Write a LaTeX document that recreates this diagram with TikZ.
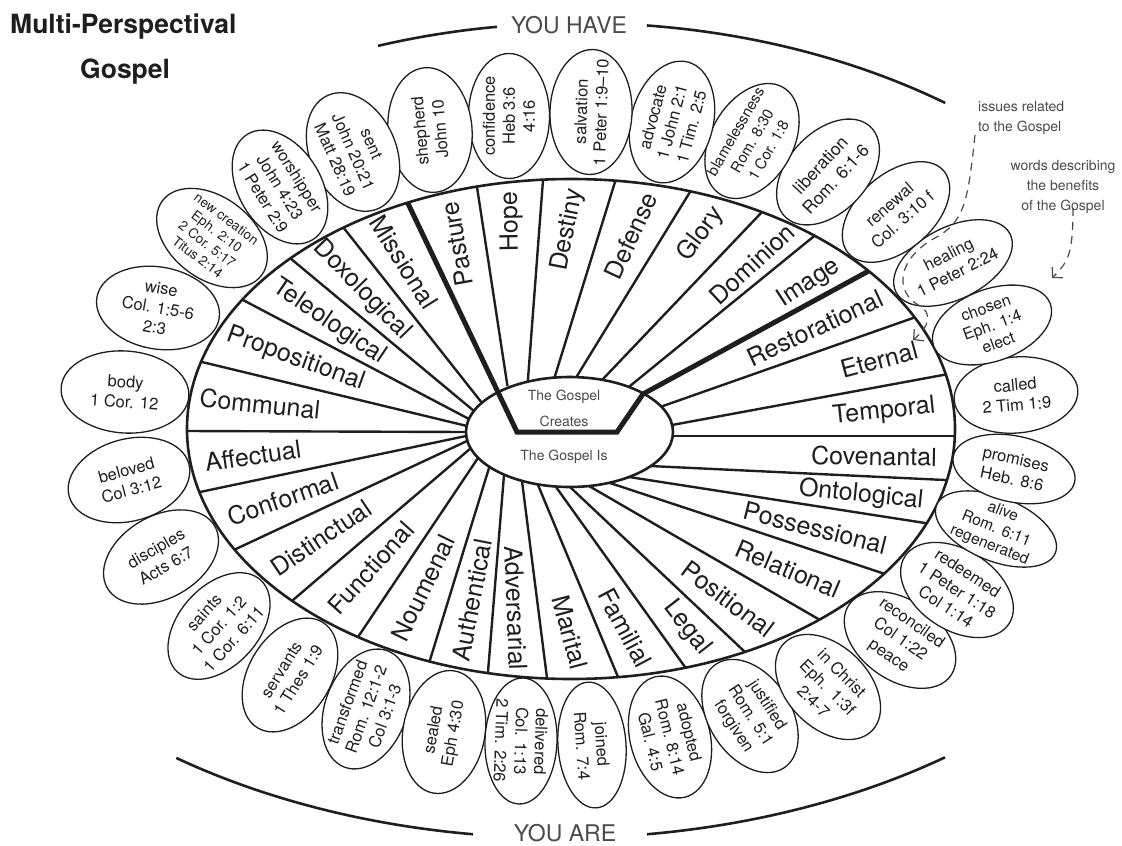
\documentclass[tikz,border=0pt]{standalone}
\usepackage{fontspec}
\setmainfont{TeX Gyre Heros}
\usepackage{tikz}
\usetikzlibrary{arrows.meta,shapes.geometric}
\definecolor{inkGray}{HTML}{1E1E1E}
\definecolor{noteGray}{HTML}{4A4A4A}

\begin{document}
\begin{tikzpicture}[
  x=1pt,y=-1pt,
  ring/.style={draw=inkGray,line width=2.6pt},
  spoke/.style={draw=inkGray,line width=2.4pt,shorten <=-3pt,shorten >=-8pt},
  creates/.style={draw=inkGray,line width=5pt},
  facet/.style={text=inkGray,inner sep=0pt,font=\fontsize{25}{30}\selectfont},
  verse/.style={draw=inkGray,line width=1.3pt,fill=white,ellipse,inner sep=0pt,minimum width=124,minimum height=82},
  versetext/.style={text=inkGray,align=center,inner sep=0pt,font=\fontsize{16.5}{20}\selectfont},
  note/.style={text=noteGray,align=center,inner sep=0pt,font=\fontsize{14}{20}\selectfont},
  hint/.style={draw=noteGray,line width=1.2pt,dash pattern=on 8pt off 6pt,-{Straight Barb[length=7pt,width=15pt]}},
  heading/.style={text=noteGray,inner sep=0pt,font=\fontsize{23}{27}\selectfont}
]
\useasboundingbox (0,0) rectangle (1122,846);

% spokes of the wheel
\begin{scope}
  \clip (571,429) ellipse [x radius=384, y radius=250];
  \foreach \ix/\iy/\ox/\oy in {466/432/187/431, 467/426/202/362, 469/419/243/300, 474/411/290/258,
      482/403/343/227, 507/383/477/187, 528/379/543/180, 555/376/615/182, 577/376/690/192,
      603/379/762/212, 630/386/813/237, 663/406/913/318, 672/425/943/375, 673/436/953/436,
      650/466/945/480, 629/477/925/523, 610/483/882/573, 589/486/820/620, 570/487/745/652,
      556/487/685/667, 538/485/618/677, 522/481/547/678, 504/475/488/672, 489/468/430/660,
      478/458/358/637, 471/448/293/600, 467/441/238/548, 466/436/200/492}
    \draw[spoke] (\ix,\iy) -- (\ox,\oy);
\end{scope}

\node[draw=inkGray,line width=2.6pt,fill=white,ellipse,inner sep=0pt,minimum width=207,minimum height=110] (core) at (569.5,432) {};

\begin{scope}
  \clip (571,429) ellipse [x radius=384, y radius=250];
  \draw[creates] (403,193) -- (517,432) -- (617,432) -- (643,394) -- (876,267);
\end{scope}
\draw[ring] (571,429) ellipse [x radius=384, y radius=250];

\node[note] (gospelA) at (564,397) {The Gospel};
\node[note] (gospelB) at (564,421) {Creates};
\node[note] (gospelC) at (564,457) {The Gospel Is};

% you have
\node[facet,rotate=-6] (communal) at (260,404) {Communal};
\node[facet,rotate=-20] (propositional) at (296,359) {Propositional};
\node[facet,rotate=-34] (teleological) at (329,322) {Teleological};
\node[facet,rotate=-46] (doxological) at (362,290) {Doxological};
\node[facet,rotate=-58] (missional) at (404,262) {Missional};
\node[facet,rotate=100] (pasture) at (457,244) {Pasture};
\node[facet,rotate=91] (hope) at (511,222) {Hope};
\node[facet,rotate=79] (destiny) at (568,230) {Destiny};
\node[facet,rotate=65] (defense) at (631,236) {Defense};
\node[facet,rotate=53] (glory) at (701,234) {Glory};
\node[facet,rotate=43] (dominion) at (752,264) {Dominion};
\node[facet,rotate=33] (image) at (809,283) {Image};
\node[facet,rotate=25] (restorational) at (815,328) {Restorational};
\node[facet,rotate=15] (eternal) at (879,360) {Eternal};
\node[facet,rotate=6] (temporal) at (884,412) {Temporal};
% you are
\node[facet,rotate=-1] (covenantal) at (874,456) {Covenantal};
\node[facet,rotate=-6] (ontological) at (861,495) {Ontological};
\node[facet,rotate=-14] (possessional) at (815,528) {Possessional};
\node[facet,rotate=-23] (relational) at (788,569) {Relational};
\node[facet,rotate=-37] (positional) at (728,599) {Positional};
\node[facet,rotate=-52] (legal) at (687,628) {Legal};
\node[facet,rotate=-62] (familial) at (625,628) {Familial};
\node[facet,rotate=-75] (marital) at (570,632) {Marital};
\node[facet,rotate=-88] (adversarial) at (516,608) {Adversarial};
\node[facet,rotate=79] (authentical) at (472,600) {Authentical};
\node[facet,rotate=64] (noumenal) at (423,588) {Noumenal};
\node[facet,rotate=48] (functional) at (371,568) {Functional};
\node[facet,rotate=34] (distinctual) at (321,538) {Distinctual};
\node[facet,rotate=19] (conformal) at (283,499) {Conformal};
\node[facet,rotate=8] (affectual) at (253,456) {Affectual};

% verses round the wheel
\node[verse,rotate=-10] (wise) at (158,308) {};
\node[versetext,rotate=-10] (wiseT) at (wise) {wise\\Col. 1:5-6\\2:3};
\node[verse,rotate=-4,minimum width=128] (body) at (125,392) {};
\node[versetext,rotate=-4] (bodyT) at (body) {body\\1 Cor. 12};
\node[verse,rotate=15] (beloved) at (129,480) {};
\node[versetext,rotate=15] (belovedT) at (beloved) {beloved\\Col 3:12};
\node[verse,rotate=30] (disciples) at (161,557) {};
\node[versetext,rotate=30] (disciplesT) at (disciples) {disciples\\Acts 6:7};
\node[verse,rotate=48,minimum height=80] (saints) at (219,626) {};
\node[versetext,rotate=48] (saintsT) at (saints) {saints\\1 Cor. 1:2\\1 Cor. 6:11};
\node[verse,rotate=58] (servants) at (290,675) {};
\node[versetext,rotate=58] (servantsT) at (servants) {servants\\1 Thes 1:9};
\node[verse,rotate=70] (transformed) at (366,709) {};
\node[versetext,rotate=70] (transformedT) at (transformed) {transformed\\Rom. 12:1-2\\Col 3:1-3};
\node[verse,rotate=80] (sealed) at (444,732) {};
\node[versetext,rotate=80] (sealedT) at (sealed) {sealed\\Eph 4:30};
\node[verse,rotate=-92,minimum width=126,minimum height=72] (delivered) at (521,741) {};
\node[versetext,rotate=-92] (deliveredT) at (delivered) {delivered\\Col. 1:13\\2 Tim. 2:26};
\node[verse,rotate=-86,minimum width=126,minimum height=68] (joined) at (592,745) {};
\node[versetext,rotate=-86] (joinedT) at (joined) {joined\\Rom. 7:4};
\node[verse,rotate=-76,minimum height=80] (adopted) at (670,737) {};
\node[versetext,rotate=-76] (adoptedT) at (adopted) {adopted\\Rom. 8:14\\Gal. 4:5};
\node[verse,rotate=-57] (justified) at (750,716) {};
\node[versetext,rotate=-57] (justifiedT) at (justified) {justified\\Rom. 5:1\\forgiven};
\node[verse,rotate=-45] (inChrist) at (828,687) {};
\node[versetext,rotate=-45] (inChristT) at (inChrist) {in Christ\\Eph.\ \ 1:3f\\2:4-7};
\node[verse,rotate=-35,minimum height=80] (reconciled) at (900,640) {};
\node[versetext,rotate=-35] (reconciledT) at (reconciled) {reconciled\\Col 1:22\\peace};
\node[verse,rotate=-33,minimum height=80] (redeemed) at (957,590) {};
\node[versetext,rotate=-33] (redeemedT) at (redeemed) {redeemed\\1 Peter 1:18\\Col 1:14};
\node[verse,rotate=-22,minimum width=128,minimum height=64] (alive) at (996,529) {};
\node[versetext,rotate=-22,font=\fontsize{15.5}{18}\selectfont] (aliveT) at (alive) {alive\\Rom. 6:11\\regenerated};
\node[verse,rotate=-12,minimum height=66] (promises) at (1014,469) {};
\node[versetext,rotate=-12] (promisesT) at (promises) {promises\\Heb. 8:6};
\node[verse,rotate=5,minimum height=76] (called) at (1016,395) {};
\node[versetext,rotate=5] (calledT) at (called) {called\\2 Tim 1:9};
\node[verse,rotate=20,minimum height=72] (chosen) at (992,325) {};
\node[versetext,rotate=20,font=\fontsize{16}{18.5}\selectfont] (chosenT) at (chosen) {chosen\\Eph. 1:4\\elect};
\node[verse,rotate=27,minimum width=128,minimum height=72] (healing) at (953,263) {};
\node[versetext,rotate=27] (healingT) at (healing) {healing\\1 Peter 2:24};
\node[verse,rotate=41,minimum width=126,minimum height=76] (renewal) at (896,212) {};
\node[versetext,rotate=41] (renewalT) at (renewal) {renewal\\Col. 3:10 f};
\node[verse,rotate=47,minimum height=80] (liberation) at (828,172) {};
\node[versetext,rotate=47,font=\fontsize{17.5}{21}\selectfont] (liberationT) at (liberation) {liberation\\Rom. 6:1-6};
\node[verse,rotate=60] (blamelessness) at (752,141) {};
\node[versetext,rotate=60,font=\fontsize{15}{19}\selectfont] (blamelessnessT) at (blamelessness) {blamelessness\\Rom. 8:30\\1 Cor. 1:8};
\node[verse,rotate=75] (advocate) at (672,122) {};
\node[versetext,rotate=75] (advocateT) at (advocate) {advocate\\1 John 2:1\\1 Tim. 2:5};
\node[verse,rotate=88,minimum width=125] (salvation) at (591,112) {};
\node[versetext,rotate=88] (salvationT) at (salvation) {salvation\\1 Peter 1:9--10};
\node[verse,rotate=90,minimum width=125,minimum height=81] (confidence) at (509,116) {};
\node[versetext,rotate=90] (confidenceT) at (confidence) {confidence\\Heb 3:6\\4:16};
\node[verse,rotate=95,minimum width=125,minimum height=84] (shepherd) at (430,130) {};
\node[versetext,rotate=95] (shepherdT) at (shepherd) {shepherd\\John 10};
\node[verse,rotate=-66,minimum height=86] (sent) at (353,152) {};
\node[versetext,rotate=-66] (sentT) at (sent) {sent\\John 20:21\\Matt 28:19};
\node[verse,rotate=-58] (worshipper) at (280,187) {};
\node[versetext,rotate=-58] (worshipperT) at (worshipper) {worshipper\\John 4:23\\1 Peter 2:9};
\node[verse,rotate=-37] (newCreation) at (212,238) {};
\node[versetext,rotate=-37,font=\fontsize{13.5}{16}\selectfont] (newCreationT) at (newCreation) {new creation\\Eph. 2:10\\2 Cor. 5:17\\Titus 2:14};

% outer arcs
\draw[ring] plot[domain=-108.4:-97.45,samples=30] ({580+640*cos(\x)},{470+447*sin(\x)});
\draw[ring] plot[domain=-84:-55.2,samples=40] ({580+640*cos(\x)},{470+447*sin(\x)});
\draw[ring] plot[domain=126.5:97.75,samples=40] ({560+645*cos(\x)},{430+408*sin(\x)});
\draw[ring] plot[domain=82.25:53.35,samples=40] ({560+645*cos(\x)},{430+408*sin(\x)});
\node[heading] (youHave) at (569,25) {YOU HAVE};
\node[heading] (youAre) at (565,833) {YOU ARE};

\node[anchor=base west,inner sep=0pt,text=inkGray,font=\bfseries\fontsize{26.5}{30}\selectfont] (title) at (10,33) {Multi-Perspectival};
\node[anchor=base west,inner sep=0pt,text=inkGray,font=\bfseries\fontsize{26.5}{30}\selectfont] (titleB) at (80,78) {Gospel};

% notes
\node[note,anchor=west,align=left] (issues) at (978,118) {issues related\\to the Gospel};
\node[note] (benefits) at (1063,187) {words describing\\the benefits\\of the Gospel};
\coordinate (eternalTip) at (913,340);
\coordinate (chosenTip) at (1052,278);
\draw[hint] ([xshift=-3pt]issues.south west) .. controls (968,200) and (965,222) .. (935,238)
  .. controls (898,258) and (893,292) .. (920,306) .. controls (932,313) and (930,326) .. (eternalTip);
\draw[hint] ([xshift=10pt,yshift=6pt]benefits.south) .. controls (1073,255) and (1068,262) .. (chosenTip);
\end{tikzpicture}
\end{document}
